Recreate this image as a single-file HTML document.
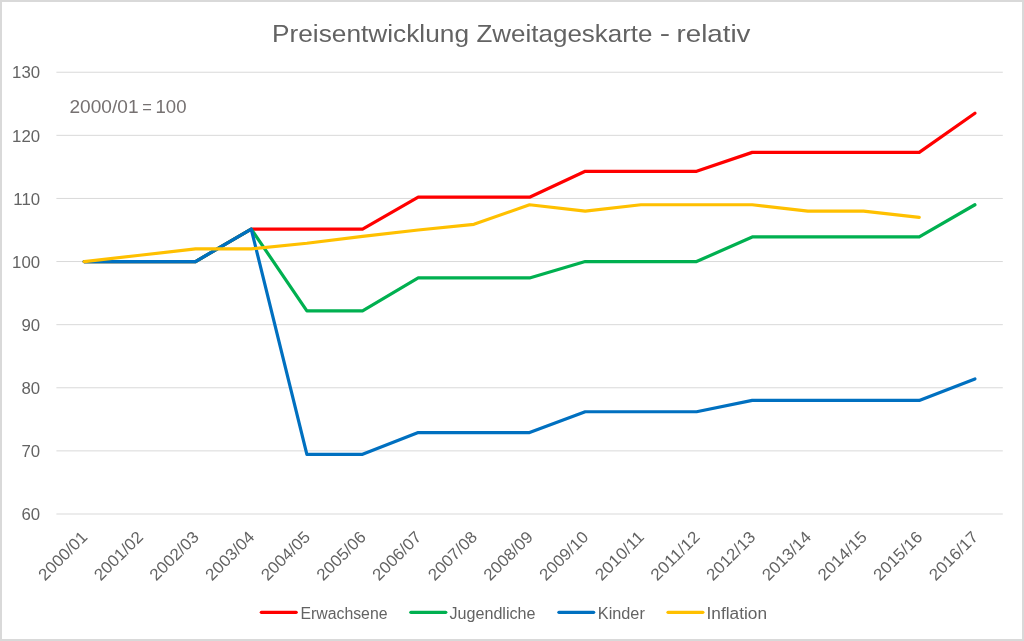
<!DOCTYPE html>
<html><head><meta charset="utf-8"><style>
html,body{margin:0;padding:0;background:#fff;}
svg{display:block;will-change:transform;}
text{font-family:"Liberation Sans",sans-serif;fill:#636363;}
.ax{font-size:16.8px;}
.lg{font-size:16px;}
.xl{font-size:16.5px;}
.tt{font-size:24.8px;}
.an{font-size:18.5px;fill:#767171;}
</style></head><body>
<svg width="1024" height="641" viewBox="0 0 1024 641">
<rect x="1" y="1" width="1022" height="639" fill="#fff" stroke="#d9d9d9" stroke-width="2"/>
<text x="272.0" y="42.2" class="tt" textLength="197" lengthAdjust="spacingAndGlyphs">Preisentwicklung</text><text x="476.5" y="42.2" class="tt" textLength="176" lengthAdjust="spacingAndGlyphs">Zweitageskarte</text><text x="659.8" y="41.3" class="tt" textLength="10.3" lengthAdjust="spacingAndGlyphs">-</text><text x="676.5" y="42.2" class="tt" textLength="74" lengthAdjust="spacingAndGlyphs">relativ</text>
<line x1="56.4" y1="514.00" x2="1002.8" y2="514.00" stroke="#d9d9d9" stroke-width="1"/>
<line x1="56.4" y1="450.89" x2="1002.8" y2="450.89" stroke="#d9d9d9" stroke-width="1"/>
<line x1="56.4" y1="387.78" x2="1002.8" y2="387.78" stroke="#d9d9d9" stroke-width="1"/>
<line x1="56.4" y1="324.67" x2="1002.8" y2="324.67" stroke="#d9d9d9" stroke-width="1"/>
<line x1="56.4" y1="261.56" x2="1002.8" y2="261.56" stroke="#d9d9d9" stroke-width="1"/>
<line x1="56.4" y1="198.45" x2="1002.8" y2="198.45" stroke="#d9d9d9" stroke-width="1"/>
<line x1="56.4" y1="135.34" x2="1002.8" y2="135.34" stroke="#d9d9d9" stroke-width="1"/>
<line x1="56.4" y1="72.23" x2="1002.8" y2="72.23" stroke="#d9d9d9" stroke-width="1"/>
<text x="40.1" y="520.20" text-anchor="end" class="ax">60</text>
<text x="40.1" y="457.09" text-anchor="end" class="ax">70</text>
<text x="40.1" y="393.98" text-anchor="end" class="ax">80</text>
<text x="40.1" y="330.87" text-anchor="end" class="ax">90</text>
<text x="40.1" y="267.76" text-anchor="end" class="ax">100</text>
<text x="40.1" y="204.65" text-anchor="end" class="ax">110</text>
<text x="40.1" y="141.54" text-anchor="end" class="ax">120</text>
<text x="40.1" y="78.43" text-anchor="end" class="ax">130</text>

<text x="69.5" y="112.5" class="an" textLength="69" lengthAdjust="spacingAndGlyphs">2000/01</text><text x="142.3" y="112.5" class="an" textLength="9.6" lengthAdjust="spacingAndGlyphs">=</text><text x="155.5" y="112.5" class="an" textLength="31" lengthAdjust="spacingAndGlyphs">100</text>
<polyline points="84.20,261.56 139.87,261.56 195.54,261.56 251.21,229.06 306.88,229.06 362.55,229.06 418.22,197.19 473.89,197.19 529.56,197.19 585.23,171.31 640.90,171.31 696.57,171.31 752.24,152.38 807.91,152.38 863.58,152.38 919.25,152.38 974.92,113.25" fill="none" stroke="#ff0000" stroke-width="3.2" stroke-linecap="round" stroke-linejoin="round"/>
<polyline points="84.20,261.56 139.87,261.56 195.54,261.56 251.21,229.06 306.88,310.79 362.55,310.79 418.22,277.97 473.89,277.97 529.56,277.97 585.23,261.56 640.90,261.56 696.57,261.56 752.24,236.95 807.91,236.95 863.58,236.95 919.25,236.95 974.92,204.76" fill="none" stroke="#00b050" stroke-width="3.2" stroke-linecap="round" stroke-linejoin="round"/>
<polyline points="84.20,261.56 139.87,261.56 195.54,261.56 251.21,229.06 306.88,454.36 362.55,454.36 418.22,432.59 473.89,432.59 529.56,432.59 585.23,411.76 640.90,411.76 696.57,411.76 752.24,400.40 807.91,400.40 863.58,400.40 919.25,400.40 974.92,378.94" fill="none" stroke="#0070c0" stroke-width="3.2" stroke-linecap="round" stroke-linejoin="round"/>
<polyline points="84.20,261.56 139.87,255.25 195.54,248.94 251.21,248.94 306.88,243.26 362.55,236.32 418.22,230.00 473.89,224.33 529.56,204.76 585.23,211.07 640.90,204.76 696.57,204.76 752.24,204.76 807.91,211.07 863.58,211.07 919.25,217.38" fill="none" stroke="#ffc000" stroke-width="3.2" stroke-linecap="round" stroke-linejoin="round"/>
<text transform="translate(45.00,581.5) rotate(-45)" class="xl" textLength="61.5" lengthAdjust="spacingAndGlyphs">2000/01</text>
<text transform="translate(100.67,581.5) rotate(-45)" class="xl" textLength="61.5" lengthAdjust="spacingAndGlyphs">2001/02</text>
<text transform="translate(156.34,581.5) rotate(-45)" class="xl" textLength="61.5" lengthAdjust="spacingAndGlyphs">2002/03</text>
<text transform="translate(212.01,581.5) rotate(-45)" class="xl" textLength="61.5" lengthAdjust="spacingAndGlyphs">2003/04</text>
<text transform="translate(267.68,581.5) rotate(-45)" class="xl" textLength="61.5" lengthAdjust="spacingAndGlyphs">2004/05</text>
<text transform="translate(323.35,581.5) rotate(-45)" class="xl" textLength="61.5" lengthAdjust="spacingAndGlyphs">2005/06</text>
<text transform="translate(379.02,581.5) rotate(-45)" class="xl" textLength="61.5" lengthAdjust="spacingAndGlyphs">2006/07</text>
<text transform="translate(434.69,581.5) rotate(-45)" class="xl" textLength="61.5" lengthAdjust="spacingAndGlyphs">2007/08</text>
<text transform="translate(490.36,581.5) rotate(-45)" class="xl" textLength="61.5" lengthAdjust="spacingAndGlyphs">2008/09</text>
<text transform="translate(546.03,581.5) rotate(-45)" class="xl" textLength="61.5" lengthAdjust="spacingAndGlyphs">2009/10</text>
<text transform="translate(601.70,581.5) rotate(-45)" class="xl" textLength="61.5" lengthAdjust="spacingAndGlyphs">2010/11</text>
<text transform="translate(657.37,581.5) rotate(-45)" class="xl" textLength="61.5" lengthAdjust="spacingAndGlyphs">2011/12</text>
<text transform="translate(713.04,581.5) rotate(-45)" class="xl" textLength="61.5" lengthAdjust="spacingAndGlyphs">2012/13</text>
<text transform="translate(768.71,581.5) rotate(-45)" class="xl" textLength="61.5" lengthAdjust="spacingAndGlyphs">2013/14</text>
<text transform="translate(824.38,581.5) rotate(-45)" class="xl" textLength="61.5" lengthAdjust="spacingAndGlyphs">2014/15</text>
<text transform="translate(880.05,581.5) rotate(-45)" class="xl" textLength="61.5" lengthAdjust="spacingAndGlyphs">2015/16</text>
<text transform="translate(935.72,581.5) rotate(-45)" class="xl" textLength="61.5" lengthAdjust="spacingAndGlyphs">2016/17</text>
<line x1="261.30" y1="612.3" x2="296.20" y2="612.3" stroke="#ff0000" stroke-width="3.2" stroke-linecap="round"/>
<text x="300.5" y="618.6" class="lg" textLength="87" lengthAdjust="spacingAndGlyphs">Erwachsene</text>
<line x1="410.80" y1="612.3" x2="445.80" y2="612.3" stroke="#00b050" stroke-width="3.2" stroke-linecap="round"/>
<text x="449.5" y="618.6" class="lg" textLength="86" lengthAdjust="spacingAndGlyphs">Jugendliche</text>
<line x1="558.90" y1="612.3" x2="593.70" y2="612.3" stroke="#0070c0" stroke-width="3.2" stroke-linecap="round"/>
<text x="597.8" y="618.6" class="lg" textLength="47" lengthAdjust="spacingAndGlyphs">Kinder</text>
<line x1="668.00" y1="612.3" x2="702.90" y2="612.3" stroke="#ffc000" stroke-width="3.2" stroke-linecap="round"/>
<text x="706.5" y="618.6" class="lg" textLength="60.5" lengthAdjust="spacingAndGlyphs">Inflation</text>

</svg>
</body></html>
